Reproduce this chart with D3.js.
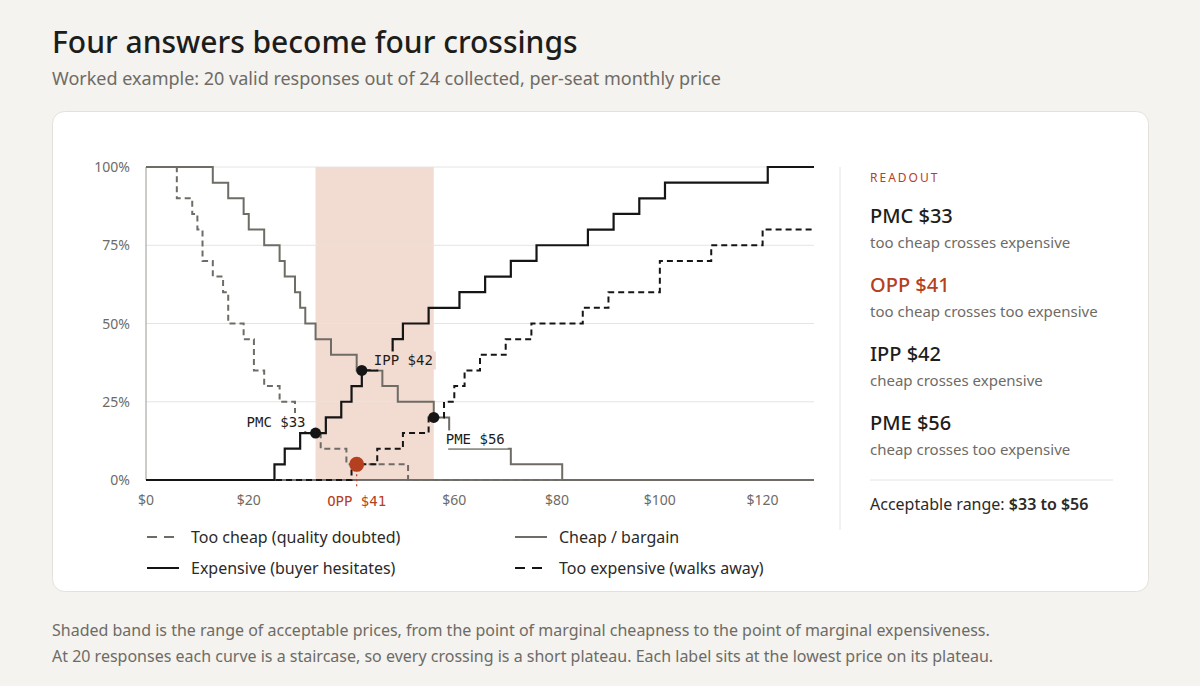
<!DOCTYPE html>
<html><head><meta charset="utf-8">
<script src="https://cdn.jsdelivr.net/npm/d3@7"></script>
<style>
body{margin:0;background:#f4f3ef;font-family:"Noto Sans","Open Sans",sans-serif;}
</style></head><body>
<svg id="c" width="1200" height="686"></svg>
<script>
// step series: [price, share%] — value holds from this price until next
const tooCheap = [[0,100],[6,90],[9,85],[10,80],[11,70],[13,65],[15,60],[16,50],[19,45],[21,35],[23,30],[26,25],[29,20],[31,15],[34,10],[39,5],[51,0],[130,0]];
const cheap = [[0,100],[13,95],[16,90],[19,85],[20,80],[23,75],[26,70],[27,65],[29,60],[30,55],[31,50],[33,45],[36,40],[41,35],[46,30],[49,25],[56,20],[59,10],[71,5],[81,0],[130,0]];
const expensive = [[0,0],[25,5],[27,10],[30,15],[35,20],[38,25],[40,30],[42,35],[45,40],[48,45],[50,50],[55,55],[61,60],[66,65],[71,70],[76,75],[86,80],[91,85],[96,90],[101,95],[121,100],[130,100]];
const tooExpensive = [[0,0],[40,5],[45,10],[50,15],[55,20],[58,25],[60,30],[62,35],[65,40],[70,45],[75,50],[85,55],[90,60],[100,70],[110,75],[120,80],[130,80]];
const xTicks = [0,20,60,80,100,120];
const yTicks = [0,25,50,75,100];
const points = [
 {name:"PMC",price:33,share:15,desc:"too cheap crosses expensive"},
 {name:"OPP",price:41,share:5,desc:"too cheap crosses too expensive"},
 {name:"IPP",price:42,share:35,desc:"cheap crosses expensive"},
 {name:"PME",price:56,share:20,desc:"cheap crosses too expensive"}
];
const band = [33,56];

const svg = d3.select("#c");
const ORANGE="#b5401f";
svg.append("text").attr("x",52).attr("y",53).attr("font-size",30).attr("font-weight",500).attr("fill","#1d1d1b").text("Four answers become four crossings");
svg.append("text").attr("x",52).attr("y",85).attr("font-size",18).attr("fill","#6e6b66").text("Worked example: 20 valid responses out of 24 collected, per-seat monthly price");
svg.append("rect").attr("x",52.5).attr("y",111.5).attr("width",1096).attr("height",480).attr("rx",12).attr("fill","#fff").attr("stroke","#e4e1dc");
svg.append("text").attr("x",52).attr("y",636).attr("font-size",16).attr("fill","#6e6b66").text("Shaded band is the range of acceptable prices, from the point of marginal cheapness to the point of marginal expensiveness.");
svg.append("text").attr("x",52).attr("y",662).attr("font-size",16).attr("fill","#6e6b66").text("At 20 responses each curve is a staircase, so every crossing is a short plateau. Each label sits at the lowest price on its plateau.");

const x = d3.scaleLinear().domain([0,130]).range([146,814]);
const y = d3.scaleLinear().domain([0,100]).range([480,167]);
const g = svg.append("g");
g.append("rect").attr("x",x(band[0])).attr("y",y(100)).attr("width",x(band[1])-x(band[0])).attr("height",y(0)-y(100)).attr("fill","#f2dbd1");
yTicks.forEach(t=>{
  if(t>0) g.append("line").attr("x1",146).attr("x2",814).attr("y1",y(t)).attr("y2",y(t)).attr("stroke","#e6e4e0");
  g.append("text").attr("x",130).attr("y",y(t)+5).attr("text-anchor","end").attr("font-size",14).attr("fill","#6e6b66").text(t+"%");
});
g.append("line").attr("x1",146).attr("x2",146).attr("y1",167).attr("y2",480).attr("stroke","#9a9792");
xTicks.forEach(t=>{
  g.append("text").attr("x",x(t)).attr("y",505).attr("text-anchor","middle").attr("font-size",14).attr("fill","#6e6b66").text("$"+t);
});
const line = d3.line().x(d=>x(d[0])).y(d=>y(d[1])).curve(d3.curveStepAfter);
const styles = [
 {data:cheap,c:"#6f6c66",dash:null,w:2,label:"Cheap / bargain"},
 {data:tooCheap,c:"#6f6c66",dash:"6,4",w:2,label:"Too cheap (quality doubted)"},
 {data:expensive,c:"#151515",dash:null,w:2.2,label:"Expensive (buyer hesitates)"},
 {data:tooExpensive,c:"#151515",dash:"6,4",w:2,label:"Too expensive (walks away)"}
];
g.append("line").attr("x1",146).attr("x2",814).attr("y1",480).attr("y2",480).attr("stroke","#444").attr("stroke-width",1.5);
styles.forEach(s=>g.append("path").attr("d",line(s.data)).attr("fill","none").attr("stroke",s.c).attr("stroke-width",s.w).attr("stroke-dasharray",s.dash));
// OPP dotted drop
const opp=points[1];
g.append("line").attr("x1",x(opp.price)).attr("x2",x(opp.price)).attr("y1",y(opp.share)).attr("y2",488).attr("stroke",ORANGE).attr("stroke-dasharray","2,3").attr("stroke-width",1.2);
const mono='"DejaVu Sans Mono",monospace';
const lab = {PMC:[-10,-6,"end"],IPP:[12,-5,"start"],PME:[12,27,"start"]};
points.forEach(p=>{
  const o=p.name==="OPP";
  if(o) g.append("text").attr("x",x(p.price)).attr("y",506).attr("text-anchor","middle").attr("font-family",mono).attr("font-size",14).attr("fill",ORANGE).text(p.name+" $"+p.price);
  else { const l=lab[p.name];
    const tx=g.append("text").attr("x",x(p.price)+l[0]).attr("y",y(p.share)+l[1]).attr("text-anchor",l[2]).attr("font-family",mono).attr("font-size",14).attr("fill","#1d1d1b").text(p.name+" $"+p.price);
    const b=tx.node().getBBox();
    g.insert("rect",()=>tx.node()).attr("x",b.x-3).attr("y",b.y-1).attr("width",b.width+6).attr("height",b.height+2).attr("fill",p.name==="IPP"?"#f2dbd1":"#fff");
  }
  g.append("circle").attr("cx",x(p.price)).attr("cy",y(p.share)).attr("r",o?7.5:5.5).attr("fill",o?ORANGE:"#151515");
});
// legend
const leg=[[1,147,537],[0,515,537],[2,147,568],[3,515,568]];
leg.forEach(([i,lx,ly])=>{const s=styles[i];
  svg.append("line").attr("x1",lx).attr("x2",lx+32).attr("y1",ly).attr("y2",ly).attr("stroke",s.c).attr("stroke-width",2).attr("stroke-dasharray",s.dash?"10,7":null);
  svg.append("text").attr("x",lx+44).attr("y",ly+6).attr("font-size",16).attr("fill","#2b2a28").text(s.label);
});
// readout
svg.append("line").attr("x1",840).attr("x2",840).attr("y1",167).attr("y2",530).attr("stroke","#e6e4e0");
svg.append("text").attr("x",870).attr("y",182).attr("font-size",12).attr("letter-spacing",2).attr("fill",ORANGE).text("READOUT");
const order=["PMC","OPP","IPP","PME"];
order.forEach((n,i)=>{const p=points.find(q=>q.name===n);
  svg.append("text").attr("x",870).attr("y",223+i*69).attr("font-size",20).attr("font-weight",500).attr("fill",n==="OPP"?ORANGE:"#1d1d1b").text(p.name+" $"+p.price);
  svg.append("text").attr("x",870).attr("y",248+i*69).attr("font-size",15).attr("fill","#6e6b66").text(p.desc);
});
svg.append("line").attr("x1",870).attr("x2",1113).attr("y1",480).attr("y2",480).attr("stroke","#e6e4e0");
const t=svg.append("text").attr("x",870).attr("y",510).attr("font-size",16).attr("fill","#2b2a28").text("Acceptable range: ");
t.append("tspan").attr("font-weight",600).text("$"+band[0]+" to $"+band[1]);
</script></body></html>
